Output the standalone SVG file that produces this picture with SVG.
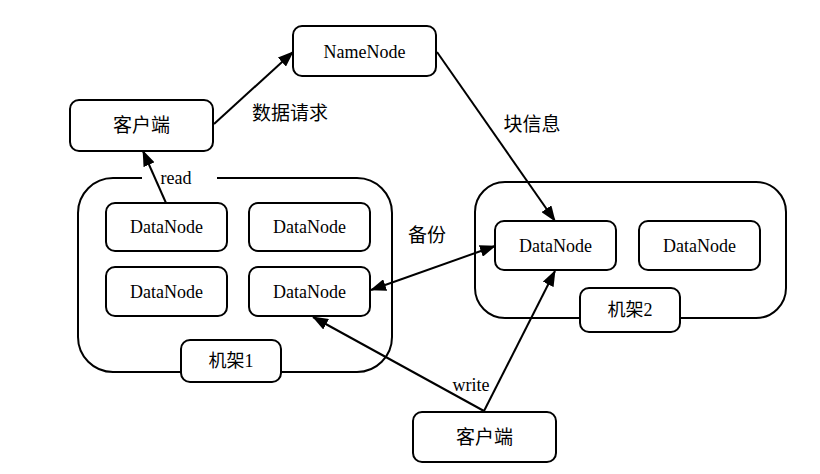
<svg xmlns="http://www.w3.org/2000/svg" width="820" height="474" viewBox="0 0 820 474">
<style>
.box{fill:#fff;stroke:#000;stroke-width:2}
.rack{fill:none;stroke:#000;stroke-width:2}
.t{font-family:"Liberation Serif","Noto Sans CJK SC",serif;font-size:18px;fill:#000;text-anchor:middle}
.c{font-family:"Liberation Serif","Noto Sans CJK SC",serif;font-size:19px;fill:#000;text-anchor:middle}
.ln{stroke:#000;stroke-width:2;fill:none}
</style>
<defs>
<marker id="ah" markerUnits="userSpaceOnUse" markerWidth="16" markerHeight="12" refX="15" refY="6" orient="auto-start-reverse" viewBox="0 0 16 12">
<path d="M0,0 L16,6 L0,12 z" fill="#000"/>
</marker>
</defs>
<rect width="820" height="474" fill="#fff"/>
<g id="rack1">
<path class="rack" d="M142,178 L113,178 A35,35 0 0 0 78,213 L78,337 A35,35 0 0 0 113,372 L357,372 A35,35 0 0 0 392,337 L392,213 A35,35 0 0 0 357,178 L217,178"/>
</g>
<g id="rack2">
<rect class="rack" x="475" y="182" width="311" height="136" rx="30" ry="30"/>
</g>
<g id="connectors">
<line class="ln" x1="214" y1="124" x2="293" y2="52" marker-end="url(#ah)"/>
<line class="ln" x1="437" y1="52" x2="555" y2="221" marker-end="url(#ah)"/>
<line class="ln" x1="166" y1="203" x2="143" y2="151" marker-end="url(#ah)"/>
<line class="ln" x1="371" y1="290" x2="495" y2="246" marker-start="url(#ah)" marker-end="url(#ah)"/>
<line class="ln" x1="484" y1="411" x2="313" y2="317" marker-end="url(#ah)"/>
<line class="ln" x1="484" y1="411" x2="555" y2="271" marker-end="url(#ah)"/>
</g>
<g id="namenode"><rect class="box" x="293" y="26" width="143" height="50" rx="9"/><text class="t" x="364.5" y="58">NameNode</text></g>
<g id="client1"><rect class="box" x="70" y="100" width="143" height="51" rx="9"/><text class="c" x="141.5" y="132">客户端</text></g>
<g id="dn1"><rect class="box" x="106" y="203" width="121" height="48" rx="9"/><text class="t" x="166.5" y="233">DataNode</text></g>
<g id="dn2"><rect class="box" x="249" y="203" width="121" height="48" rx="9"/><text class="t" x="309.5" y="233">DataNode</text></g>
<g id="dn3"><rect class="box" x="106" y="267" width="121" height="49" rx="9"/><text class="t" x="166.5" y="298">DataNode</text></g>
<g id="dn4"><rect class="box" x="249" y="267" width="121" height="49" rx="9"/><text class="t" x="309.5" y="298">DataNode</text></g>
<g id="rack1label"><rect class="box" x="181" y="340" width="100" height="42" rx="9"/><text class="t" x="231" y="367">机架1</text></g>
<g id="dn5"><rect class="box" x="495" y="221" width="121" height="49" rx="9"/><text class="t" x="555.5" y="252">DataNode</text></g>
<g id="dn6"><rect class="box" x="639" y="221" width="121" height="49" rx="9"/><text class="t" x="699.5" y="252">DataNode</text></g>
<g id="rack2label"><rect class="box" x="580" y="288" width="100" height="44" rx="9"/><text class="t" x="630" y="316">机架2</text></g>
<g id="client2"><rect class="box" x="413" y="412" width="143" height="50" rx="9"/><text class="c" x="484.5" y="444">客户端</text></g>
<g id="labels">
<text class="c" x="290" y="120">数据请求</text>
<text class="c" x="532" y="131">块信息</text>
<text class="c" x="427" y="242">备份</text>
<text class="t" x="176" y="184">read</text>
<text class="t" x="471" y="391">write</text>
</g>
</svg>
